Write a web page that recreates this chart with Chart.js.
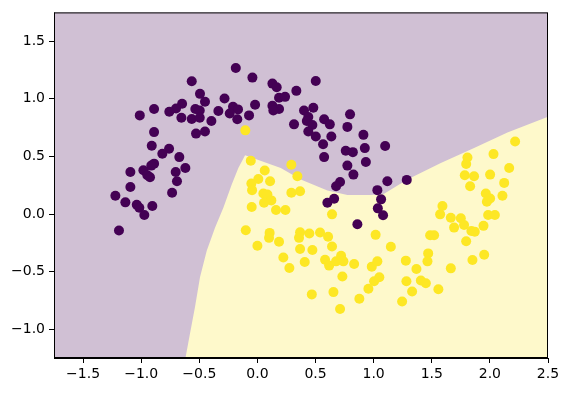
<!DOCTYPE html>
<html>
<head>
<meta charset="utf-8">
<script src="https://cdn.jsdelivr.net/npm/chart.js@4"></script>
<style>
  body { margin: 0; background: #fff; }
</style>
</head>
<body>
<canvas id="graficoMoons" width="570" height="393"></canvas>
<script>
// classe 0 (roxo)
const classe0X = [-0.565, -0.494, -0.451, -0.283, -0.648, -0.700, -0.758, -0.889, -1.012, -0.534, -0.496, -0.654, -0.565, -0.496, -0.396, -0.336, -0.889, -0.528, -0.451,
  -0.186, -0.043, 0.129, 0.166, 0.502, 0.335, 0.186, 0.238, -0.020, 0.129, 0.186, 0.137, -0.210, -0.167, -0.238, -0.072, -0.173, 0.401, 0.481, 0.438, 0.425, 0.473, 0.574, 0.623, 0.797, 0.774, 0.315,
  -0.909, -0.760, -0.818, -0.672, -0.889, -0.913, -0.981, -1.093, -0.947, -0.924, -0.620, -0.703, -0.692, -1.093, -0.734, -1.222, -1.136, -1.038, -1.016, -0.904, -0.973, -1.191,
  0.438, 0.502, 0.565, 0.636, 0.574, 0.912, 0.924, 0.760, 0.821, 0.933, 0.774, 0.826, 1.099, 0.711, 0.677, 1.032, 0.602, 0.660, 1.064, 1.036, 0.860, 1.118, 1.285, 1.081];
const classe0Y = [1.153, 1.043, 0.974, 1.003, 0.957, 0.916, 0.888, 0.911, 0.856, 0.911, 0.899, 0.836, 0.825, 0.836, 0.808, 0.894, 0.711, 0.698, 0.716,
  1.267, 1.184, 1.132, 1.101, 1.155, 1.069, 1.009, 1.017, 0.948, 0.940, 0.911, 0.899, 0.931, 0.908, 0.873, 0.856, 0.822, 0.899, 0.922, 0.842, 0.808, 0.773, 0.822, 0.778, 0.865, 0.756, 0.778,
  0.592, 0.566, 0.523, 0.494, 0.437, 0.420, 0.379, 0.365, 0.336, 0.319, 0.399, 0.365, 0.284, 0.235, 0.184, 0.158, 0.101, 0.080, 0.054, 0.069, -0.009, -0.144,
  0.716, 0.672, 0.606, 0.672, 0.494, 0.687, 0.572, 0.549, 0.537, 0.451, 0.420, 0.342, 0.591, 0.278, 0.241, 0.207, 0.097, 0.132, 0.127, 0.049, -0.089, 0.284, 0.296, -0.011];

// classe 1 (amarelo)
const classe1X = [-0.104, -0.057, 0.292, 0.063, 0.344, 0.008, -0.052, 0.109, -0.046, 0.051, 0.086, 0.292, 0.367, 0.120, 0.057, -0.049, 0.160, 0.241, 0.642, -0.100, 0.105, 0.100, 0.367, 0.358, 0.447, 0.539, 0.608, 1.017, 0.186,
  2.217, 2.031, 1.807, 1.796, 2.166, 1.784, 1.864, 2.002, 2.123, 1.830, 1.965, 2.002, 1.974, 2.108, 1.592, 1.572, 1.664, 1.750, 1.778, 1.692, 1.841, 1.870, 1.945, 1.985, 2.043, 1.486, 1.520, 1.796,
  0.000, 0.367, 0.473, 0.642, 0.223, 0.275, 0.407, 0.582, 0.617, 0.677, 0.720, 0.740, 0.832, 0.731, 0.468, 0.654, 0.877, 0.711, 0.955, 1.004, 1.049, 0.984, 1.032,
  1.148, 1.469, 1.463, 1.277, 1.664, 1.850, 1.951, 1.368, 1.282, 1.406, 1.449, 1.557, 1.331, 1.245];
const classe1Y = [0.726, 0.463, 0.428, 0.377, 0.328, 0.304, 0.265, 0.284, 0.207, 0.178, 0.170, 0.184, 0.198, 0.118, 0.097, 0.060, 0.034, 0.034, -0.003, -0.141, -0.164, -0.207, -0.159, -0.207, -0.170, -0.161, -0.198, -0.181, -0.241,
  0.629, 0.520, 0.491, 0.434, 0.399, 0.336, 0.328, 0.342, 0.270, 0.241, 0.178, 0.135, 0.106, 0.158, 0.069, -0.003, -0.032, -0.037, -0.095, -0.118, -0.147, -0.153, -0.103, -0.009, -0.009, -0.184, -0.184, -0.237,
  -0.276, -0.304, -0.313, -0.282, -0.377, -0.468, -0.416, -0.397, -0.448, -0.411, -0.362, -0.411, -0.434, -0.543, -0.698, -0.678, -0.735, -0.825, -0.649, -0.584, -0.549, -0.457, -0.411,
  -0.284, -0.342, -0.411, -0.405, -0.472, -0.399, -0.353, -0.477, -0.584, -0.578, -0.601, -0.653, -0.672, -0.759];

// fronteira de decisão (abaixo = amarelo)
const fronteiraX = [-1.75, -0.622, -0.617, -0.580, -0.537, -0.494, -0.436, -0.364, -0.293, -0.221, -0.164, -0.106, 0.201, 0.373, 0.602, 0.774, 0.975, 1.090, 1.290, 1.578, 1.864, 2.151, 2.5];
const fronteiraY = [-1.25, -1.25, -1.239, -1.037, -0.808, -0.549, -0.319, -0.118, 0.054, 0.256, 0.399, 0.509, 0.399, 0.299, 0.204, 0.164, 0.164, 0.175, 0.299, 0.442, 0.572, 0.707, 0.845];

const ticksX = [-1.5, -1.0, -0.5, 0.0, 0.5, 1.0, 1.5, 2.0, 2.5];
const ticksY = [-1.0, -0.5, 0.0, 0.5, 1.0, 1.5];

const pontos = (xs, ys) => xs.map((x, i) => ({ x: x, y: ys[i] }));
const rotulo = (v) => v.toFixed(1).replace("-", "\u2212");

const moldura = {
  id: "moldura",
  beforeDatasetsDraw(chart) {
    const { ctx, chartArea: a } = chart;
    ctx.save();
    ctx.fillStyle = "rgb(208,192,212)";
    ctx.fillRect(a.left, a.top, a.right - a.left, a.bottom - a.top);
    ctx.restore();
  },
  afterDraw(chart) {
    const { ctx, chartArea: a } = chart;
    ctx.save();
    ctx.strokeStyle = "#000";
    ctx.lineWidth = 1;
    ctx.strokeRect(a.left + 0.5, a.top + 0.5, a.right - a.left - 1, a.bottom - a.top - 1);
    ctx.restore();
  }
};

const fonte = { family: "DejaVu Sans", size: 14 };

new Chart(document.getElementById("graficoMoons").getContext("2d"), {
  type: "scatter",
  data: {
    datasets: [
      {
        type: "line",
        data: pontos(fronteiraX, fronteiraY),
        fill: "start",
        backgroundColor: "rgb(254,249,203)",
        borderWidth: 0,
        pointRadius: 0,
        tension: 0,
        order: 3
      },
      {
        data: pontos(classe1X, classe1Y),
        backgroundColor: "#fde725",
        borderWidth: 0,
        pointRadius: 5,
        order: 2
      },
      {
        data: pontos(classe0X, classe0Y),
        backgroundColor: "#440154",
        borderWidth: 0,
        pointRadius: 5,
        order: 1
      }
    ]
  },
  options: {
    responsive: false,
    animation: false,
    layout: { padding: { top: 10, right: 22, left: 0, bottom: 0 } },
    plugins: {
      legend: { display: false },
      tooltip: { enabled: false }
    },
    scales: {
      x: {
        type: "linear",
        min: -1.75,
        max: 2.5,
        afterBuildTicks: (s) => { s.ticks = ticksX.map((v) => ({ value: v })); },
        afterFit: (s) => { s.height = 35; },
        ticks: { callback: rotulo, color: "#000", font: fonte, padding: 3, maxRotation: 0, autoSkip: false },
        grid: { drawOnChartArea: false, drawTicks: true, tickLength: 5, color: "#000" },
        border: { color: "#000", width: 1 }
      },
      y: {
        type: "linear",
        min: -1.25,
        max: 1.75,
        afterBuildTicks: (s) => { s.ticks = ticksY.map((v) => ({ value: v })); },
        afterFit: (s) => { s.width = 54; },
        ticks: { callback: rotulo, color: "#000", font: fonte, padding: 4, autoSkip: false },
        grid: { drawOnChartArea: false, drawTicks: true, tickLength: 5, color: "#000" },
        border: { color: "#000", width: 1 }
      }
    }
  },
  plugins: [moldura]
});
</script>
</body>
</html>
